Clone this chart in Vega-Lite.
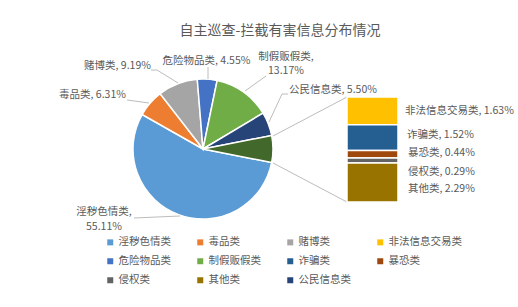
{
"$schema":"https://vega.github.io/schema/vega-lite/v6.json",
"width":518,"height":267,"autosize":"none","padding":{"top":40,"left":0,"right":0,"bottom":0},
"background":"white",
"config":{"view":{"stroke":null},"font":"Noto Sans CJK SC","text":{"font":"Noto Sans CJK SC"}},
"title":{"text":"自主巡查-拦截有害信息分布情况","fontSize":14,"fontWeight":"normal","color":"#595959","font":"Noto Sans CJK SC","anchor":"middle","frame":"group","dx":21,"offset":2},
"datasets":{
"pie":[{"cat":"淫秽色情类","value":55.11,"ord":1},{"cat":"毒品类","value":6.31,"ord":2},{"cat":"赌博类","value":9.19,"ord":3},{"cat":"危险物品类","value":4.55,"ord":4},{"cat":"制假贩假类","value":13.17,"ord":5},{"cat":"公民信息类","value":5.50,"ord":6},{"cat":"其他合计","value":6.17,"ord":7}],
"bar":[{"cat":"非法信息交易类","value":1.63,"ord":5},{"cat":"诈骗类","value":1.52,"ord":4},{"cat":"暴恐类","value":0.44,"ord":3},{"cat":"侵权类","value":0.29,"ord":2},{"cat":"其他类","value":2.29,"ord":1}]
},
"resolve":{"scale":{"y":"independent"}},
"layer":[
{"layer":[
{"data":{"name":"pie"},"mark":{"type":"arc","outerRadius":70,"stroke":"white","strokeWidth":1.5},
"encoding":{
"x":{"datum":203,"type":"quantitative","scale":{"domain":[0,518],"range":[0,518],"nice":false,"zero":false},"axis":null},
"y":{"datum":149,"type":"quantitative","scale":{"domain":[40,307],"range":[0,267],"nice":false,"zero":false},"axis":null},
"theta":{"field":"value","type":"quantitative","stack":true,"scale":{"type":"linear","domain":[0,100],"range":[1.7647,8.0479],"zero":false,"nice":false}},
"order":{"field":"ord","type":"quantitative"},
"color":{"condition":{"test":"datum.cat === '其他合计'","value":"#43682B"},"field":"cat","type":"nominal",
"scale":{"domain":["淫秽色情类","毒品类","赌博类","非法信息交易类","危险物品类","制假贩假类","诈骗类","暴恐类","侵权类","其他类","公民信息类"],"range":["#5B9BD5","#ED7D31","#A5A5A5","#FFC000","#4472C4","#70AD47","#255E91","#9E480E","#636363","#997300","#264478"]},
"legend":{"orient":"none","direction":"horizontal","legendX":105,"legendY":197,"columns":4,"title":null,"symbolType":"square","symbolSize":36,"symbolStrokeWidth":0,"labelFontSize":10.5,"labelColor":"#595959","labelFont":"Noto Sans CJK SC","columnPadding":24,"rowPadding":8,"labelOffset":3,"labelLimit":200}}
}},
{"data":{"values":[{}]},"mark":{"type":"rule","color":"#A6A6A6","strokeWidth":0.75},"encoding":{"x":{"datum":134,"type":"quantitative","axis":null},"y":{"datum":218,"type":"quantitative","axis":null},"x2":{"datum":180},"y2":{"datum":216}}},
{"data":{"values":[{}]},"mark":{"type":"rule","color":"#A6A6A6","strokeWidth":0.75},"encoding":{"x":{"datum":127,"type":"quantitative","axis":null},"y":{"datum":100,"type":"quantitative","axis":null},"x2":{"datum":149},"y2":{"datum":103}}},
{"data":{"values":[{}]},"mark":{"type":"rule","color":"#A6A6A6","strokeWidth":0.75},"encoding":{"x":{"datum":151,"type":"quantitative","axis":null},"y":{"datum":70,"type":"quantitative","axis":null},"x2":{"datum":157},"y2":{"datum":70}}},
{"data":{"values":[{}]},"mark":{"type":"rule","color":"#A6A6A6","strokeWidth":0.75},"encoding":{"x":{"datum":157,"type":"quantitative","axis":null},"y":{"datum":70,"type":"quantitative","axis":null},"x2":{"datum":178},"y2":{"datum":83}}},
{"data":{"values":[{}]},"mark":{"type":"rule","color":"#A6A6A6","strokeWidth":0.75},"encoding":{"x":{"datum":208,"type":"quantitative","axis":null},"y":{"datum":67,"type":"quantitative","axis":null},"x2":{"datum":208},"y2":{"datum":79}}},
{"data":{"values":[{}]},"mark":{"type":"rule","color":"#A6A6A6","strokeWidth":0.75},"encoding":{"x":{"datum":245,"type":"quantitative","axis":null},"y":{"datum":91,"type":"quantitative","axis":null},"x2":{"datum":266},"y2":{"datum":76}}},
{"data":{"values":[{}]},"mark":{"type":"rule","color":"#A6A6A6","strokeWidth":0.75},"encoding":{"x":{"datum":288,"type":"quantitative","axis":null},"y":{"datum":94,"type":"quantitative","axis":null},"x2":{"datum":282},"y2":{"datum":94}}},
{"data":{"values":[{}]},"mark":{"type":"rule","color":"#A6A6A6","strokeWidth":0.75},"encoding":{"x":{"datum":282,"type":"quantitative","axis":null},"y":{"datum":94,"type":"quantitative","axis":null},"x2":{"datum":269},"y2":{"datum":122}}},
{"data":{"values":[{}]},"mark":{"type":"rule","color":"#A6A6A6","strokeWidth":0.75},"encoding":{"x":{"datum":273,"type":"quantitative","axis":null},"y":{"datum":136,"type":"quantitative","axis":null},"x2":{"datum":347},"y2":{"datum":97}}},
{"data":{"values":[{}]},"mark":{"type":"rule","color":"#A6A6A6","strokeWidth":0.75},"encoding":{"x":{"datum":273,"type":"quantitative","axis":null},"y":{"datum":163,"type":"quantitative","axis":null},"x2":{"datum":347},"y2":{"datum":202}}},
{"data":{"name":"pie"},"transform":[{"filter":"datum.cat === '淫秽色情类'"},{"calculate":"[datum.cat + ',', format(datum.value, '.2f') + '%']","as":"lbl"}],"mark":{"type":"text","fontSize":10.5,"color":"#595959","align":"center","baseline":"top","lineHeight":15},"encoding":{"x":{"datum":104,"type":"quantitative","axis":null},"y":{"datum":207,"type":"quantitative","axis":null},"text":{"field":"lbl","type":"nominal"}}},
{"data":{"name":"pie"},"transform":[{"filter":"datum.cat === '毒品类'"},{"calculate":"datum.cat + ', ' + format(datum.value, '.2f') + '%'","as":"lbl"}],"mark":{"type":"text","fontSize":10.5,"color":"#595959","align":"center","baseline":"middle"},"encoding":{"x":{"datum":92.5,"type":"quantitative","axis":null},"y":{"datum":95,"type":"quantitative","axis":null},"text":{"field":"lbl","type":"nominal"}}},
{"data":{"name":"pie"},"transform":[{"filter":"datum.cat === '赌博类'"},{"calculate":"datum.cat + ', ' + format(datum.value, '.2f') + '%'","as":"lbl"}],"mark":{"type":"text","fontSize":10.5,"color":"#595959","align":"center","baseline":"middle"},"encoding":{"x":{"datum":117.5,"type":"quantitative","axis":null},"y":{"datum":66,"type":"quantitative","axis":null},"text":{"field":"lbl","type":"nominal"}}},
{"data":{"name":"pie"},"transform":[{"filter":"datum.cat === '危险物品类'"},{"calculate":"datum.cat + ', ' + format(datum.value, '.2f') + '%'","as":"lbl"}],"mark":{"type":"text","fontSize":10.5,"color":"#595959","align":"center","baseline":"middle"},"encoding":{"x":{"datum":206.5,"type":"quantitative","axis":null},"y":{"datum":61,"type":"quantitative","axis":null},"text":{"field":"lbl","type":"nominal"}}},
{"data":{"name":"pie"},"transform":[{"filter":"datum.cat === '制假贩假类'"},{"calculate":"[datum.cat + ',', format(datum.value, '.2f') + '%']","as":"lbl"}],"mark":{"type":"text","fontSize":10.5,"color":"#595959","align":"center","baseline":"top","lineHeight":13.5},"encoding":{"x":{"datum":286,"type":"quantitative","axis":null},"y":{"datum":52,"type":"quantitative","axis":null},"text":{"field":"lbl","type":"nominal"}}},
{"data":{"name":"pie"},"transform":[{"filter":"datum.cat === '公民信息类'"},{"calculate":"datum.cat + ', ' + format(datum.value, '.2f') + '%'","as":"lbl"}],"mark":{"type":"text","fontSize":10.5,"color":"#595959","align":"center","baseline":"middle"},"encoding":{"x":{"datum":333,"type":"quantitative","axis":null},"y":{"datum":90,"type":"quantitative","axis":null},"text":{"field":"lbl","type":"nominal"}}},
{"data":{"name":"bar"},"transform":[{"filter":"datum.cat === '非法信息交易类'"},{"calculate":"datum.cat + ', ' + format(datum.value, '.2f') + '%'","as":"lbl"}],"mark":{"type":"text","fontSize":10.5,"color":"#595959","align":"left","baseline":"middle"},"encoding":{"x":{"datum":405,"type":"quantitative","axis":null},"y":{"datum":111,"type":"quantitative","axis":null},"text":{"field":"lbl","type":"nominal"}}},
{"data":{"name":"bar"},"transform":[{"filter":"datum.cat === '诈骗类'"},{"calculate":"datum.cat + ', ' + format(datum.value, '.2f') + '%'","as":"lbl"}],"mark":{"type":"text","fontSize":10.5,"color":"#595959","align":"left","baseline":"middle"},"encoding":{"x":{"datum":407,"type":"quantitative","axis":null},"y":{"datum":135,"type":"quantitative","axis":null},"text":{"field":"lbl","type":"nominal"}}},
{"data":{"name":"bar"},"transform":[{"filter":"datum.cat === '暴恐类'"},{"calculate":"datum.cat + ', ' + format(datum.value, '.2f') + '%'","as":"lbl"}],"mark":{"type":"text","fontSize":10.5,"color":"#595959","align":"left","baseline":"middle"},"encoding":{"x":{"datum":408,"type":"quantitative","axis":null},"y":{"datum":153,"type":"quantitative","axis":null},"text":{"field":"lbl","type":"nominal"}}},
{"data":{"name":"bar"},"transform":[{"filter":"datum.cat === '侵权类'"},{"calculate":"datum.cat + ', ' + format(datum.value, '.2f') + '%'","as":"lbl"}],"mark":{"type":"text","fontSize":10.5,"color":"#595959","align":"left","baseline":"middle"},"encoding":{"x":{"datum":408,"type":"quantitative","axis":null},"y":{"datum":172,"type":"quantitative","axis":null},"text":{"field":"lbl","type":"nominal"}}},
{"data":{"name":"bar"},"transform":[{"filter":"datum.cat === '其他类'"},{"calculate":"datum.cat + ', ' + format(datum.value, '.2f') + '%'","as":"lbl"}],"mark":{"type":"text","fontSize":10.5,"color":"#595959","align":"left","baseline":"middle"},"encoding":{"x":{"datum":408,"type":"quantitative","axis":null},"y":{"datum":189,"type":"quantitative","axis":null},"text":{"field":"lbl","type":"nominal"}}}
]},
{"layer":[
{"data":{"name":"bar"},"transform":[{"stack":"value","groupby":[],"sort":[{"field":"ord","order":"ascending"}],"as":["v0","v1"]}],
"mark":{"type":"rect","stroke":"white","strokeWidth":1.5},
"encoding":{
"x":{"datum":347,"type":"quantitative","axis":null},"x2":{"datum":398},
"y":{"field":"v0","type":"quantitative","scale":{"domain":[0,6.17],"range":[162,57],"nice":false,"zero":false},"axis":null},
"y2":{"field":"v1"},
"color":{"field":"cat","type":"nominal"}
}}
]}
]
}
